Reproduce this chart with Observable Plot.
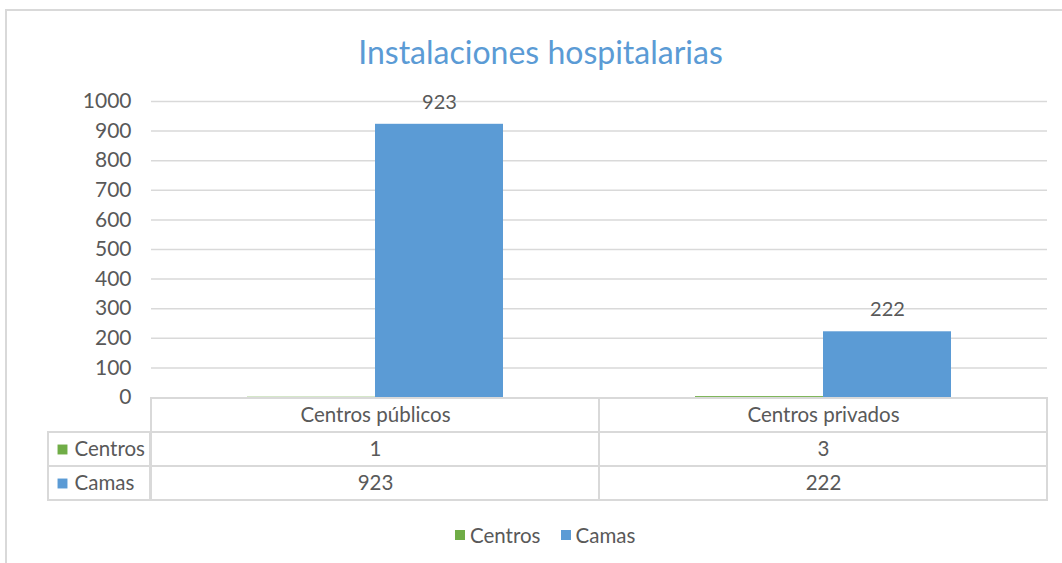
<!DOCTYPE html>
<html>
<head>
<meta charset="utf-8">
<script src="https://cdn.jsdelivr.net/npm/d3@7"></script>
<script src="https://cdn.jsdelivr.net/npm/@observablehq/plot@0.6"></script>
<style>
  html, body { margin: 0; padding: 0; background: #fff; }
  #wrap { position: relative; width: 1062px; height: 563px; overflow: hidden; background: #fff; font-family: Lato, sans-serif; }
  #frame { position: absolute; left: 5px; top: 9px; width: 1100px; height: 600px; border-left: 2px solid #d9d9d9; border-top: 2px solid #d9d9d9; }
  #title { position: absolute; left: 0; width: 1081px; top: 31px; text-align: center; font-size: 32px; color: #5b9bd5; line-height: 42px; }
  .abs { position: absolute; }
  .abs svg { overflow: visible; }
  .leg-swatch > svg { margin-right: 5px !important; }
  .leg-swatch { margin-right: 20px !important; }
</style>
</head>
<body>
<div id="wrap">
  <div id="frame"></div>
  <div id="title">Instalaciones hospitalarias</div>
  <div id="chart" class="abs" style="left:0;top:80px"></div>
  <div id="tableLeft" class="abs" style="left:47px;top:431px"></div>
  <div id="tableMain" class="abs" style="left:149px;top:397px"></div>
  <div id="legend" class="abs" style="left:455px;top:518px"></div>
</div>
<script>
const categories = ["Centros públicos", "Centros privados"];
const series = ["Centros", "Camas"];
const centros = [1, 3];
const camas = [923, 222];
const colors = ["#70ad47", "#5b9bd5"];
const yTicks = [0, 100, 200, 300, 400, 500, 600, 700, 800, 900, 1000];

const values = {Centros: centros, Camas: camas};
const data = [];
categories.forEach((c, i) => series.forEach(s => data.push({cat: c, series: s, value: values[s][i]})));

const textColor = "#595959";
const gridColor = "#d9d9d9";
const font = "Lato, sans-serif";

const chart = Plot.plot({
  width: 1062,
  height: 329,
  marginTop: 21,
  marginBottom: 12,
  marginLeft: 150,
  marginRight: 15,
  style: {fontFamily: font, fontSize: "21px", color: textColor, background: "transparent"},
  fx: {domain: categories, padding: 0, axis: null},
  x: {domain: series, paddingInner: 0, paddingOuter: 0.75, axis: null},
  y: {domain: [0, 1000], ticks: yTicks, tickFormat: d3.format("d"), tickSize: 0, tickPadding: 20, label: null},
  color: {domain: series, range: colors},
  marks: [
    Plot.ruleY(yTicks.filter(t => t > 0), {stroke: gridColor, strokeWidth: 1.5}),
    Plot.barY(data, {fx: "cat", x: "series", y: "value", fill: "series", inset: 0}),
    Plot.text(data.filter(d => d.series === "Camas"), {fx: "cat", x: "series", y: "value", text: d => String(d.value), dy: -22, fontSize: 20, fill: textColor})
  ]
});
document.getElementById("chart").appendChild(chart);

// Data table (category columns)
const rows = ["header", ...series];
const tableCells = [];
categories.forEach(c => rows.forEach(r => tableCells.push({cat: c, row: r})));
const tableValues = data.map(d => ({cat: d.cat, row: d.series, text: String(d.value)}));

const tableMain = Plot.plot({
  width: 899,
  height: 104,
  marginTop: 0, marginBottom: 1, marginLeft: 1, marginRight: 1,
  style: {fontFamily: font, fontSize: "20px", color: textColor, background: "transparent"},
  x: {domain: categories, padding: 0, axis: null},
  y: {domain: rows, padding: 0, axis: null},
  marks: [
    Plot.cell(tableCells, {x: "cat", y: "row", fill: "none", stroke: gridColor, strokeWidth: 2, inset: 0}),
    Plot.text(categories, {x: d => d, y: () => "header", text: d => d, fill: textColor, fontSize: 20.5}),
    Plot.text(tableValues, {x: "cat", y: "row", text: "text", fill: textColor, fontSize: 20.5})
  ]
});
document.getElementById("tableMain").appendChild(tableMain);

// Data table (row header column)
const tableLeft = Plot.plot({
  width: 104,
  height: 70,
  marginTop: 0, marginBottom: 1, marginLeft: 1, marginRight: 1,
  style: {fontFamily: font, fontSize: "20px", color: textColor, background: "transparent"},
  x: {domain: ["label"], padding: 0, axis: null},
  y: {domain: series, padding: 0, axis: null},
  color: {domain: series, range: colors},
  marks: [
    Plot.cell(series, {x: () => "label", y: d => d, fill: "none", stroke: gridColor, strokeWidth: 2, inset: 0}),
    Plot.dot(series, {y: d => d, frameAnchor: "left", dx: 14, symbol: "square", r: 5.6, fill: d => d, stroke: "none"}),
    Plot.text(series, {y: d => d, frameAnchor: "left", dx: 26, textAnchor: "start", text: d => d, fill: textColor, fontSize: 20.5})
  ]
});
document.getElementById("tableLeft").appendChild(tableLeft);

// Legend
const legend = Plot.legend({
  color: {domain: series, range: colors},
  swatchSize: 10,
  className: "leg",
  style: {fontFamily: font, fontSize: "20.5px", color: textColor, marginLeft: "0px"}
});
document.getElementById("legend").appendChild(legend);
</script>
</body>
</html>
